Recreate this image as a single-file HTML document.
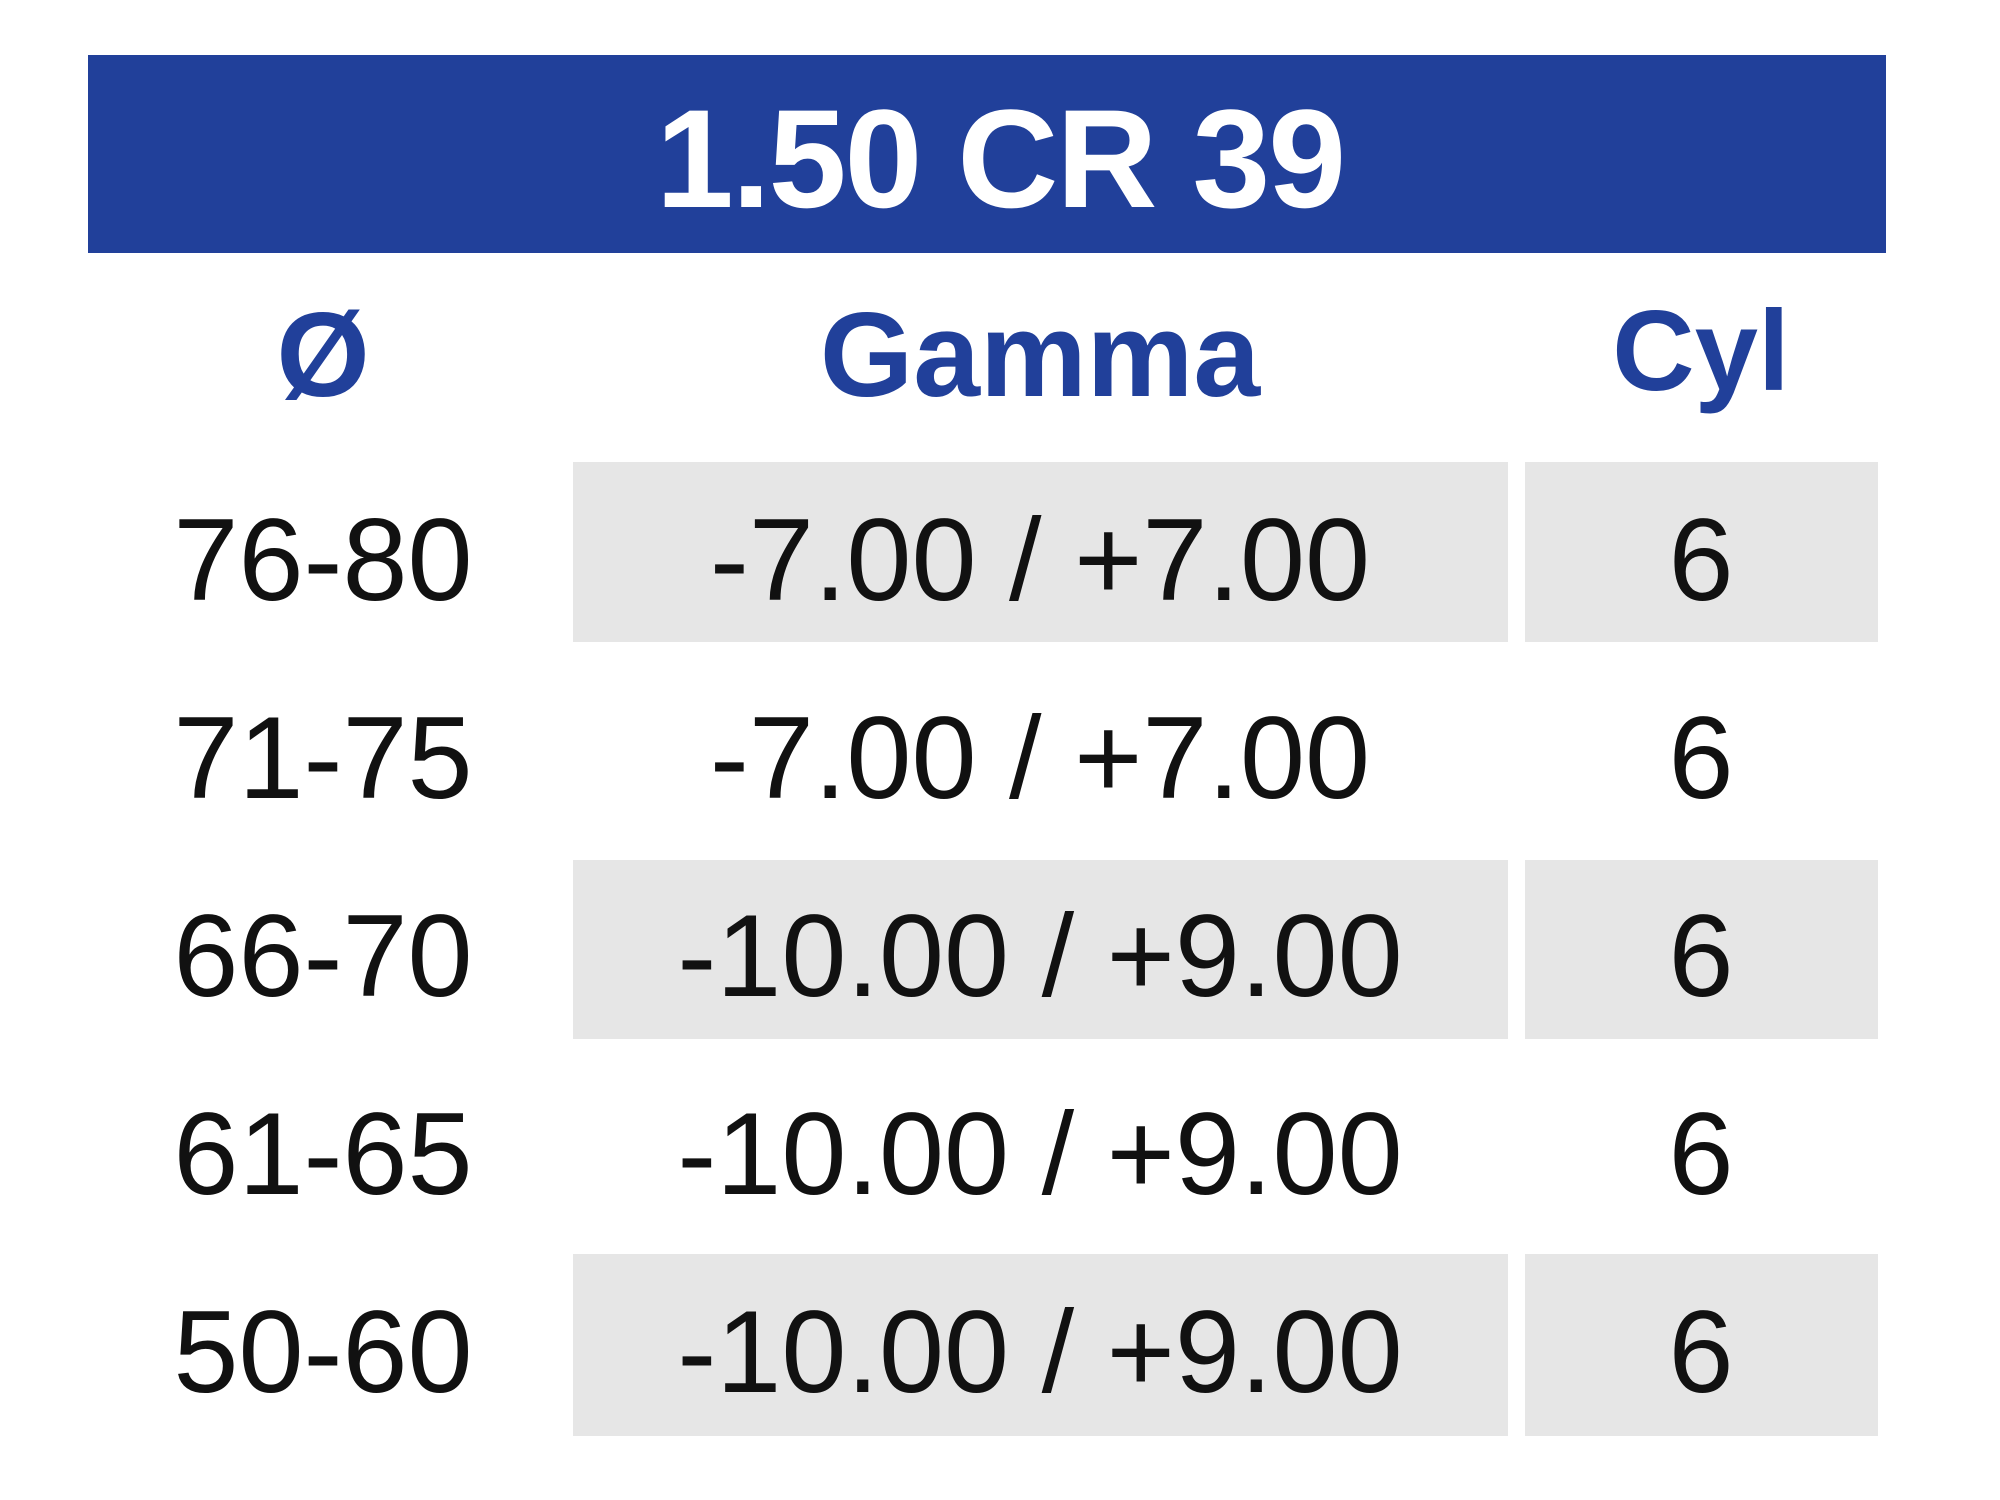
<!DOCTYPE html>
<html><head><style>
body{margin:0;width:2000px;height:1500px;background:#fff;position:relative;overflow:hidden;font-family:"Liberation Sans",sans-serif;}
.b{position:absolute;left:88px;top:55px;width:1798px;height:198px;background:#21409a;}
.g{position:absolute;background:#e6e6e6;}
.t{position:absolute;white-space:nowrap;transform:translateX(-50%);line-height:1;}
.h{color:#21409a;font-weight:bold;font-size:120px;}
.r{color:#111;font-size:117px;}
</style></head><body>
<div class="b"></div>
<div class="t" style="left:1000px;top:89px;color:#fff;font-weight:bold;font-size:140px;letter-spacing:-2px">1.50 CR 39</div>
<div class="t h" style="left:323px;top:295px">Ø</div>
<div class="t h" style="left:1040px;top:295px">Gamma</div>
<div class="t h" style="left:1701px;top:295px;font-size:114px">Cyl</div>
<div class="g" style="left:573px;top:462px;width:935px;height:180px"></div>
<div class="g" style="left:1525px;top:462px;width:353px;height:180px"></div>
<div class="g" style="left:573px;top:860px;width:935px;height:179px"></div>
<div class="g" style="left:1525px;top:860px;width:353px;height:179px"></div>
<div class="g" style="left:573px;top:1254px;width:935px;height:182px"></div>
<div class="g" style="left:1525px;top:1254px;width:353px;height:182px"></div>

<div class="t r" style="left:323px;top:501px">76-80</div>
<div class="t r" style="left:1040px;top:501px">-7.00 / +7.00</div>
<div class="t r" style="left:1701px;top:501px">6</div>
<div class="t r" style="left:323px;top:699px">71-75</div>
<div class="t r" style="left:1040px;top:699px">-7.00 / +7.00</div>
<div class="t r" style="left:1701px;top:699px">6</div>
<div class="t r" style="left:323px;top:897px">66-70</div>
<div class="t r" style="left:1040px;top:897px">-10.00 / +9.00</div>
<div class="t r" style="left:1701px;top:897px">6</div>
<div class="t r" style="left:323px;top:1095px">61-65</div>
<div class="t r" style="left:1040px;top:1095px">-10.00 / +9.00</div>
<div class="t r" style="left:1701px;top:1095px">6</div>
<div class="t r" style="left:323px;top:1293px">50-60</div>
<div class="t r" style="left:1040px;top:1293px">-10.00 / +9.00</div>
<div class="t r" style="left:1701px;top:1293px">6</div>
</body></html>
